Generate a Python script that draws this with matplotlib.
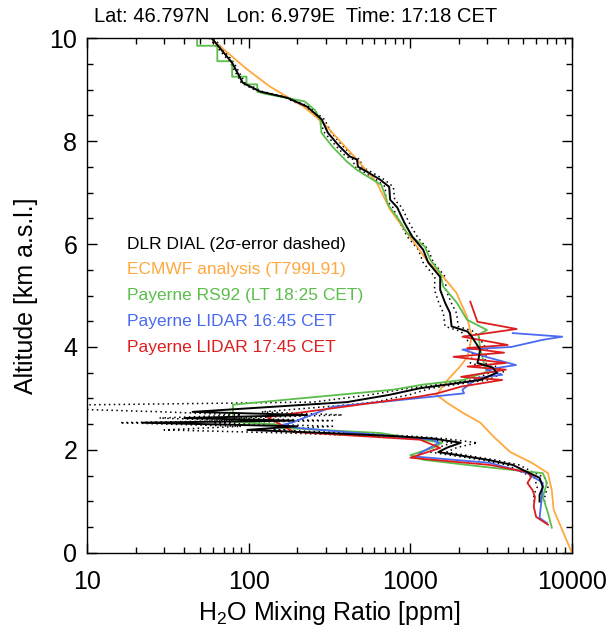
import matplotlib
matplotlib.use("Agg")
import matplotlib.pyplot as plt
from matplotlib.ticker import FixedLocator, MultipleLocator, NullFormatter

plt.rcParams['font.family'] = ['Liberation Sans', 'DejaVu Sans']
plt.rcParams['mathtext.fontset'] = 'custom'
plt.rcParams['mathtext.rm'] = 'Liberation Sans'
plt.rcParams['mathtext.it'] = 'Liberation Sans'

# DLR DIAL profile (altitude km, mixing ratio ppm) with 2-sigma bounds
dial_alt = [10.0, 9.52, 9.13, 8.96, 8.84, 8.67, 8.42, 8.16, 7.89, 7.70, 7.64, 7.50, 7.41, 7.25,
            7.11, 6.86, 6.71, 6.41, 6.14, 5.89, 5.64, 5.36, 5.11, 4.86, 4.66, 4.40, 4.30, 4.20,
            3.95, 3.79, 3.69, 3.60, 3.50, 3.36, 3.27, 3.20, 3.07, 2.93, 2.85, 2.74, 2.68, 2.62,
            2.57, 2.53, 2.46, 2.39, 2.33, 2.27, 2.22, 2.14, 2.05, 1.96, 1.81, 1.71, 1.57, 1.46,
            1.28, 1.13, 1.00]
dial_ppm = [59, 79, 92, 118, 173, 229, 283, 309, 366, 422, 468, 474, 536, 650,
            740, 750, 830, 920, 1030, 1200, 1290, 1530, 1530, 1640, 1760, 1800, 2260, 2400,
            2700, 2650, 2600, 3230, 3430, 2700, 1680, 1150, 740, 405, 160, 45, 230, 40,
            190, 22, 200, 98, 300, 800, 1400, 2050, 1700, 1490, 3000, 4300, 5300, 6300,
            6600, 6300, 6300]
dial_lo = [57, 77, 90, 114, 168, 222, 272, 295, 350, 400, 445, 450, 510, 615,
           700, 705, 780, 860, 960, 1120, 1200, 1420, 1410, 1500, 1600, 1640, 2060, 2180,
           2450, 2400, 2350, 2930, 3100, 2420, 1480, 980, 560, 250, 2, 30, 90, 28,
           80, 16, 90, 30, 170, 600, 1200, 1800, 1500, 1320, 2700, 3950, 4900, 5850,
           6100, 5800, 5800]
dial_hi = [61, 81, 95, 122, 178, 236, 294, 325, 385, 445, 490, 500, 565, 690,
           785, 800, 885, 985, 1105, 1290, 1390, 1650, 1660, 1790, 1930, 1980, 2480, 2640,
           2980, 2920, 2880, 3560, 3800, 3010, 1900, 1350, 980, 600, 330, 120, 380, 80,
           330, 60, 330, 140, 450, 1000, 1650, 2600, 1950, 1680, 3300, 4700, 5750, 6800,
           7100, 6800, 6800]

# ECMWF analysis
ecmwf_alt = [10.0, 9.39, 9.06, 8.67, 8.36, 7.64, 7.19, 6.67, 6.22, 5.95, 5.69, 5.36, 5.05,
             4.59, 4.20, 3.81, 3.62, 3.36, 3.07, 2.91, 2.72, 2.53, 2.26, 1.96, 1.75, 1.55,
             1.22, 0.84, 0.0]
ecmwf_ppm = [58, 98, 135, 218, 288, 468, 620, 750, 950, 1100, 1260, 1600, 1930,
             2240, 2400, 2260, 2030, 1700, 1450, 1700, 2120, 2710, 3270, 4150, 5650, 7100,
             7500, 7700, 10000]

# Payerne RS92 radiosonde
rs92_alt = [10.0, 9.85, 9.85, 9.55, 9.55, 9.25, 9.25, 9.10, 9.10, 8.96, 8.92, 8.77, 8.60, 8.42,
            8.16, 7.89, 7.60, 7.44, 7.25, 7.15, 6.95, 6.76, 6.53, 6.40, 6.22, 6.10, 5.95, 5.69,
            5.44, 5.17, 4.86, 4.53, 4.33, 4.24, 3.95, 3.62, 3.52, 3.36, 3.27, 3.17, 2.88, 2.55,
            2.49, 2.43, 2.33, 2.14, 2.05, 1.90, 1.81, 1.67, 1.55, 1.36, 1.09, 0.78, 0.49]
rs92_ppm = [48, 48, 64, 64, 79, 79, 97, 97, 113, 113, 125, 222, 257, 277,
            282, 330, 405, 467, 585, 660, 700, 728, 825, 880, 950, 1060, 1230, 1330,
            1530, 1600, 1940, 2240, 2980, 2640, 2710, 2890, 2980, 2120, 1200, 780, 80, 80,
            160, 160, 650, 1570, 1400, 1000, 1200, 2900, 6600, 7000, 6600, 7100, 7500]

# Payerne LIDAR 16:45 CET
lid1_alt = [4.27, 4.20, 4.14, 4.00, 3.95, 3.80, 3.65, 3.56, 3.46, 3.40, 3.17, 3.10, 2.93,
            2.84, 2.53, 2.49, 2.43, 2.20, 2.14, 1.94, 1.87, 1.75, 1.55, 1.36, 1.07, 0.68, 0.58]
lid1_ppm = [4300, 8700, 6600, 4200, 2100, 3000, 4500, 2950, 3700, 2600, 2100, 2150, 650,
            330, 185, 163, 200, 1380, 1500, 1150, 1100, 3100, 5300, 6600, 6500, 6300, 7000]

# Payerne LIDAR 17:45 CET
lid2_alt = [4.88, 4.49, 4.35, 4.20, 4.04, 3.98, 3.89, 3.81, 3.69, 3.62, 3.56, 3.42, 3.36,
            3.23, 3.10, 3.03, 2.64, 2.35, 2.20, 2.04, 1.85, 1.71, 1.57, 1.48, 1.36, 1.22,
            1.09, 0.90, 0.70, 0.55]
lid2_ppm = [2350, 2600, 4550, 2100, 4000, 2250, 3800, 1850, 3900, 2260, 3900, 2060, 3700,
            2060, 1470, 1100, 130, 190, 1150, 1530, 1000, 3100, 5300, 5600, 5300, 5700,
            5900, 5800, 6000, 7100]

labels = ["DLR DIAL (2σ-error dashed)", "ECMWF analysis (T799L91)",
          "Payerne RS92 (LT 18:25 CET)", "Payerne LIDAR 16:45 CET",
          "Payerne LIDAR 17:45 CET"]
colors = ["black", "#FFA83E", "#5BBE4B", "#4A6AF2", "#DD1E1E"]

fig = plt.figure(figsize=(6.10, 6.37), dpi=100)
ax = fig.add_axes([0.1426, 0.1319, 0.7951, 0.8084])

lw = 1.3
ax.plot(dial_lo, dial_alt, color='black', lw=1.1, ls=(0, (1, 2.2)))
ax.plot(dial_hi, dial_alt, color='black', lw=1.1, ls=(0, (1, 2.2)))
ax.plot(ecmwf_ppm, ecmwf_alt, color=colors[1], lw=lw)
ax.plot(rs92_ppm, rs92_alt, color=colors[2], lw=lw)
ax.plot(lid1_ppm, lid1_alt, color=colors[3], lw=lw)
ax.plot(lid2_ppm, lid2_alt, color=colors[4], lw=lw)
ax.plot(dial_ppm, dial_alt, color='black', lw=1.4)

ax.set_xscale('log')
ax.set_xlim(10, 10000)
ax.set_ylim(0, 10)
ax.xaxis.set_major_locator(FixedLocator([10, 100, 1000, 10000]))
ax.set_xticklabels(["10", "100", "1000", "10000"])
ax.xaxis.set_minor_locator(FixedLocator([m * d for d in (10, 100, 1000) for m in range(2, 10)]))
ax.xaxis.set_minor_formatter(NullFormatter())
ax.yaxis.set_major_locator(MultipleLocator(2))
ax.yaxis.set_minor_locator(MultipleLocator(0.5))

ax.tick_params(which='both', direction='in', top=True, right=True, width=1.0)
ax.tick_params(which='major', length=7, labelsize=18, pad=7)
ax.tick_params(which='minor', length=4)
ax.tick_params(axis='x', which='major', pad=12)
for s in ax.spines.values():
    s.set_linewidth(1.0)

ax.set_xlabel(r"H$_2$O Mixing Ratio [ppm]", fontsize=18, labelpad=4)
ax.set_ylabel("Altitude [km a.s.l.]", fontsize=18, labelpad=8)

for i, (lab, c) in enumerate(zip(labels, colors)):
    ax.text(0.082, 0.600 - 0.0503 * i, lab, color=c, fontsize=12.5,
            transform=ax.transAxes, va='center', ha='left')

fig.text(296 / 610, 1 - 17 / 637, "Lat: 46.797N   Lon: 6.979E  Time: 17:18 CET",
         ha='center', va='center', fontsize=14.5)

fig.savefig("out.png", dpi=100)
